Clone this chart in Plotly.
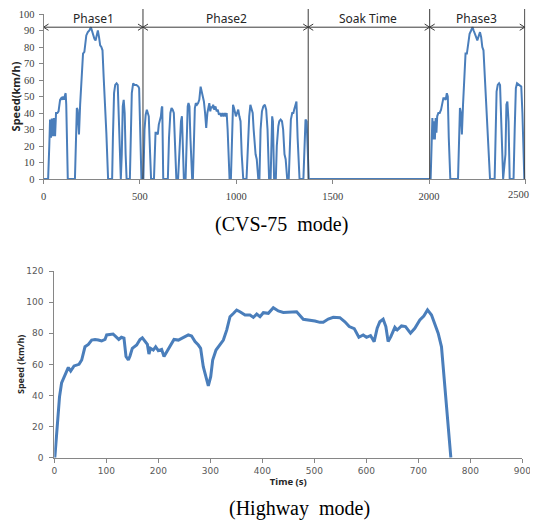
import plotly.graph_objects as go

# ---------------- CVS-75 (FTP-75) data ----------------
phase1_t = [0, 24, 30, 34, 37, 39, 43, 46, 49, 54, 57, 60, 65, 72, 78, 83, 86, 92, 97, 102, 106, 112, 115, 118, 122, 126,
            163, 168, 173, 177, 181, 184, 190, 198, 205, 212, 216, 222, 230, 238, 246, 252, 258, 264, 270, 276, 282, 288,
            294, 300, 306, 312, 318, 326, 335, 356, 360, 366, 372, 379, 385, 392, 401, 406, 411, 416, 421, 426, 431, 448,
            452, 458, 465, 472, 482, 492, 496, 500, 508]
phase1_v = [0, 0, 20, 36, 30, 25, 36, 36, 26, 37, 30, 26, 40, 40, 41, 44, 48, 49, 48, 50, 48, 51, 52, 45, 15, 0,
            0, 30, 43, 42, 30, 27, 45, 66, 76, 77, 80, 87, 89, 90, 92, 89, 87, 85, 84, 87, 90, 86,
            81, 80, 78, 62, 50, 28, 0, 0, 25, 52, 57, 58, 57, 30, 0, 15, 44, 48, 40, 15, 0, 0,
            25, 52, 58, 57, 57, 56, 55, 35, 0]

phase2_t = [518, 524, 530, 536, 541, 546, 552, 558, 573, 577, 581, 587, 593, 598, 604, 609, 613, 616, 621, 645, 651, 658,
            664, 670, 676, 681, 689, 698, 703, 708, 713, 718, 722, 728, 737, 742, 748, 752, 757, 762, 771, 775, 780, 785,
            790, 796, 802, 808, 815, 820, 826, 832, 838, 844, 850, 855, 860, 865, 870, 875, 880, 886, 892, 898, 904, 910,
            916, 922, 928, 934, 940, 946, 950, 955, 965, 972, 978, 983, 988, 993, 998, 1004, 1010, 1016, 1022, 1028, 1036,
            1053, 1060, 1067, 1073, 1078, 1085, 1090, 1095, 1100, 1106, 1114, 1120, 1126, 1133, 1140, 1148, 1155, 1162,
            1170, 1178, 1182, 1186, 1190, 1196, 1205, 1210, 1218, 1223, 1230, 1237, 1243, 1250, 1256, 1264, 1272, 1278,
            1283, 1290, 1296, 1300, 1306, 1312, 1318, 1328, 1348, 1354, 1359, 1365, 1370, 1376]
phase2_v = [0, 30, 39, 42, 40, 38, 18, 0, 0, 18, 28, 28, 27, 33, 36, 38, 43, 44, 0, 0, 25, 40,
            43, 42, 40, 25, 0, 0, 15, 28, 35, 38, 25, 0, 0, 30, 44, 46, 44, 25, 0, 0, 30, 43,
            46, 45, 46, 48, 56, 53, 50, 47, 40, 31, 40, 44, 46, 41, 44, 43, 45, 42, 44, 41, 42, 39,
            40, 38, 40, 38, 40, 38, 40, 30, 0, 0, 30, 45, 43, 40, 38, 40, 42, 38, 35, 15, 0,
            0, 20, 38, 45, 43, 40, 30, 20, 15, 12, 0, 0, 30, 41, 44, 45, 42, 30,
            0, 0, 25, 38, 35, 0, 0, 20, 32, 35, 36, 35, 30, 15, 12, 0, 0, 25,
            36, 40, 40, 42, 44, 47, 25, 0, 0, 20, 36, 35, 15, 0]

soak_t = [1376, 2008]
soak_v = [0, 0]

phase3_t = [2013, 2017, 2021, 2026, 2030, 2034, 2038, 2042, 2048, 2055, 2062, 2068, 2074, 2080, 2086, 2092, 2097, 2102,
            2110, 2150, 2155, 2160, 2165, 2170, 2176, 2182, 2189, 2196, 2203, 2210, 2218, 2225, 2231, 2238, 2244, 2250,
            2258, 2264, 2270, 2276, 2282, 2290, 2297, 2305, 2316, 2340, 2345, 2350, 2356, 2363, 2368, 2374, 2384, 2396,
            2401, 2406, 2412, 2418, 2438, 2444, 2450, 2456, 2465, 2478, 2484, 2494]
phase3_v = [25, 37, 24, 35, 24, 37, 28, 38, 40, 40, 42, 47, 49, 49, 48, 52, 50, 25,
            0, 0, 25, 43, 40, 27, 45, 65, 76, 76, 82, 88, 90, 92, 90, 87, 86, 84,
            87, 89, 86, 80, 78, 60, 48, 25, 0, 0, 25, 53, 57, 58, 57, 30, 0, 15,
            45, 47, 35, 0, 0, 30, 55, 58, 57, 56, 40, 0]

phase_names = ["Phase1", "Phase2", "Soak Time", "Phase3"]
phase_bounds = [0, 516, 1373, 2003, 2496]
phase_label_t = [257, 950, 1683, 2248]
arrow_level = 92

cvs_xticks = [0, 500, 1000, 1500, 2000, 2500]
cvs_xtick_labels = ["0", "500", "1000", "1500", "2000", "2500"]

# ---------------- Highway (HWFET) data ----------------
hwy_t = [1, 6, 10, 14, 21, 27, 31.5, 38, 47.5, 52.7, 59, 65.5, 71.9, 78.3, 84.7, 91, 97.5, 100.7, 113, 119.5, 124, 129,
         134, 137.9, 142.4, 145.6, 150, 158.4, 164.8, 169.3, 174.4, 179, 182, 185, 190.3, 194.9, 200, 206.4, 211, 216,
         222.5, 230.2, 238.6, 245, 251, 257.7, 264, 270.6, 277, 281.4, 286.5, 291.7, 296.2, 300.8, 304.6, 311, 318.7,
         325.1, 331.5, 337.9, 344.3, 350.7, 357, 366.8, 376.4, 382.8, 389.2, 395.6, 402, 411.6, 421.2, 430.8, 440.4,
         453.2, 466, 478.8, 491.6, 501.2, 510.8, 517.2, 526.8, 536.5, 549.2, 558.8, 567.2, 576.8, 585.7, 594, 600.4,
         608.1, 615.1, 620.9, 626, 632.4, 637.6, 642, 647.2, 654.9, 659.4, 667.7, 675.4, 685, 693.3, 703, 710.6, 717.7,
         725.4, 731.8, 738.2, 744.6, 749.1, 754.2, 759.4, 762.6]
hwy_v = [0, 22, 39, 48, 54, 58, 55.7, 59, 60, 62.8, 71.3, 72.8, 75.6, 76, 75.6, 75, 76, 78.9, 79.5, 77.4, 76, 77.4,
         76.8, 65, 62.8, 65.4, 70.3, 72.4, 76, 77.1, 74.6, 72.8, 66.6, 70.3, 69.2, 71.3, 68.8, 69.6, 65, 68.1,
         71.3, 76, 75.6, 76.6, 77.4, 78.9, 78.2, 74.6, 72.4, 70.3, 58.5, 51, 46.1, 52.1, 62.8, 69.2, 72.4,
         75.6, 82, 90.6, 92.7, 94.9, 93.8, 91.7, 91.7, 90.2, 92.3, 90.6, 93.2, 92.8, 96.4, 94.3, 93.4,
         93.6, 93.8, 89, 88.5, 87.9, 87, 87, 89.1, 90.2, 90, 87.4, 84.3, 83, 77.4, 78.9, 77.4,
         78.5, 74.6, 83.2, 87.4, 89, 84.3, 74.6, 77.8, 83.8, 82.1, 84.7, 84.3, 80, 83.2, 88.5, 91.1, 95,
         91.7, 86.4, 80, 71.3, 54.2, 32.8, 11.4, 0]

LINE_BLUE = "#4a7ebb"
AXIS_GRAY = "#868686"
TICK_FONT_TOP = dict(family="Liberation Sans Narrow", size=10.5, color="#404040")

# page body has an 8px margin: figure is placed at (8, 8)
FIG_W, FIG_H, OFF = 530, 517, 8


def px_x(p):
    return (p - OFF) / FIG_W


def px_y(p):
    return 1 - (p - OFF) / FIG_H


cvs_t = phase1_t + phase2_t + soak_t + phase3_t
cvs_v = phase1_v + phase2_v + soak_v + phase3_v

fig = go.Figure()

fig.add_trace(go.Scatter(x=cvs_t, y=cvs_v, mode="lines", xaxis="x", yaxis="y",
                         line=dict(color=LINE_BLUE, width=2), showlegend=False, hoverinfo="skip"))

# Phase arrows (horizontal lines with open chevron heads)
dx, dy = 26, 1.9
ax_x, ax_y = [], []
for i in range(len(phase_names)):
    a, b = phase_bounds[i], phase_bounds[i + 1]
    ax_x += [a, b, None, a + dx, a, a + dx, None, b - dx, b, b - dx, None]
    ax_y += [arrow_level, arrow_level, None, arrow_level + dy, arrow_level, arrow_level - dy, None,
             arrow_level + dy, arrow_level, arrow_level - dy, None]
fig.add_trace(go.Scatter(x=ax_x, y=ax_y, mode="lines", xaxis="x", yaxis="y",
                         line=dict(color="#3a3a3a", width=1), showlegend=False, hoverinfo="skip"))

fig.add_trace(go.Scatter(x=hwy_t, y=hwy_v, mode="lines", xaxis="x2", yaxis="y2",
                         line=dict(color=LINE_BLUE, width=3), showlegend=False, hoverinfo="skip"))

shapes = []
for b in phase_bounds[1:]:
    shapes.append(dict(type="line", xref="x", yref="paper", x0=b, x1=b,
                       y0=px_y(179), y1=px_y(9), line=dict(color="#3a3a3a", width=1)))

annotations = []
for name, t in zip(phase_names, phase_label_t):
    annotations.append(dict(x=t, y=px_y(8), xref="x", yref="paper", text=name, showarrow=False,
                            font=dict(family="Noto Sans", size=12, color="#262626"), yanchor="top"))

# last top tick label is kept inside the visible page (right-aligned at the edge)
annotations.append(dict(x=px_x(531), y=px_y(195), xref="paper", yref="paper", text=cvs_xtick_labels[-1],
                        showarrow=False, xanchor="right", yanchor="middle", font=TICK_FONT_TOP))

annotations.append(dict(x=px_x(281), y=px_y(225), xref="paper", yref="paper",
                        text="(CVS-75\u00a0\u00a0mode)", showarrow=False, xanchor="center", yanchor="middle",
                        font=dict(family="Liberation Serif", size=20, color="black")))
annotations.append(dict(x=px_x(299), y=px_y(508), xref="paper", yref="paper",
                        text="(Highway\u00a0\u00a0mode)", showarrow=False, xanchor="center", yanchor="middle",
                        font=dict(family="Liberation Serif", size=20, color="black")))

common_axis = dict(showgrid=False, zeroline=False, showline=True, linecolor=AXIS_GRAY, linewidth=1,
                   ticks="outside", ticklen=4, tickcolor=AXIS_GRAY, automargin=False)

fig.update_layout(
    width=FIG_W, height=FIG_H, margin=dict(l=0, r=0, t=0, b=0, autoexpand=False),
    paper_bgcolor="white", plot_bgcolor="white",
    shapes=shapes, annotations=annotations,
    xaxis=dict(domain=[px_x(43.5), px_x(525.5)], anchor="y", range=[0, 2500],
               tickvals=cvs_xticks, ticktext=cvs_xtick_labels[:-1] + [""], ticklabelstandoff=3,
               tickfont=TICK_FONT_TOP, **common_axis),
    yaxis=dict(domain=[px_y(179), px_y(14)], anchor="x", range=[0, 100], dtick=10, ticklabelstandoff=2,
               tickfont=TICK_FONT_TOP,
               title=dict(text="<b>Speed(km/h)</b>", font=dict(family="Noto Sans", size=11, color="#262626"), standoff=0),
               **common_axis),
    xaxis2=dict(domain=[px_x(54.3), px_x(522.3)], anchor="y2", range=[0, 900], dtick=100,
                tickfont=dict(family="DejaVu Sans", size=9, color="#595959"),
                title=dict(text="<b>Time (s)</b>", font=dict(family="Noto Sans", size=9.5, color="#262626"), standoff=3),
                **common_axis),
    yaxis2=dict(domain=[px_y(457.7), px_y(271)], anchor="x2", range=[0, 120], dtick=20, ticklabelstandoff=4,
                tickfont=dict(family="DejaVu Sans", size=9, color="#595959"),
                title=dict(text="<b>Speed (km/h)</b>", font=dict(family="Noto Sans", size=9, color="#262626"), standoff=0),
                **common_axis),
)

fig.write_html("out.html")
